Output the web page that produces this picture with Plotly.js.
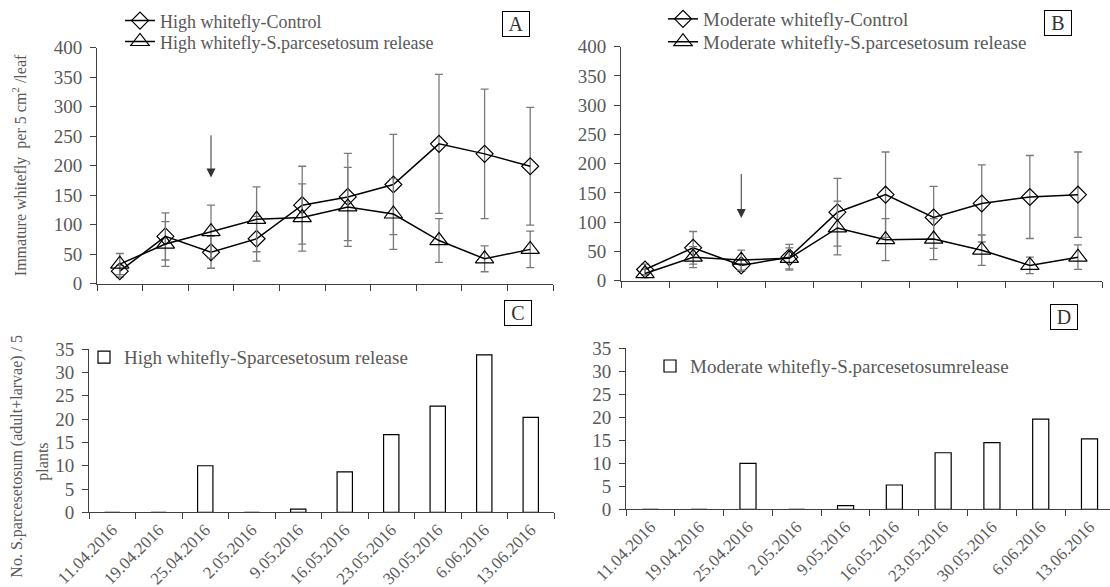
<!DOCTYPE html>
<html>
<head>
<meta charset="utf-8">
<script src="https://cdn.plot.ly/plotly-3.0.1.min.js"></script>
<style>html,body{margin:0;padding:0;background:#fff}#chart{width:1110px;height:587px}</style>
</head>
<body>
<div id="chart"></div>
<script>
// ---- data ----
var dates = ['11.04.2016','19.04.2016','25.04.2016','2.05.2016','9.05.2016','16.05.2016','23.05.2016','30.05.2016','6.06.2016','13.06.2016'];

// Panel A: high whitefly infestation
var highControl      = [21, 80, 53, 76, 133, 147, 168, 237, 220, 199];
var highControlErr   = [10, 40, 27, 38, 66, 74, 85, 118, 110, 100];
var highRelease      = [33, 67, 88, 109, 112, 130, 118, 73, 42, 58];
var highReleaseErr   = [18, 38, 45, 55, 57, 67, 60, 37, 22, 31];

// Panel B: moderate whitefly infestation
var modControl       = [19, 56, 26, 40, 117, 147, 108, 132, 143, 147];
var modControlErr    = [9, 28, 10, 22, 58, 73, 53, 66, 71, 73];
var modRelease       = [12, 40, 35, 38, 90, 70, 71, 52, 26, 40];
var modReleaseErr    = [7, 18, 17, 18, 46, 36, 35, 26, 14, 21];

// Panels C and D: S. parcesetosum counts
var highPredator     = [0, 0, 10, 0, 0.7, 8.7, 16.7, 22.8, 33.8, 20.4];
var modPredator      = [0, 0, 10, 0, 0.8, 5.3, 12.3, 14.5, 19.6, 15.3];

// release arrows (category index, arrow top, arrow tip)
var releaseIndex = 2;
var arrowA = [254, 180];
var arrowB = [185, 107];

// labels
var legendA = ['High whitefly-Control', 'High whitefly-S.parcesetosum release'];
var legendB = ['Moderate whitefly-Control', 'Moderate whitefly-S.parcesetosum release'];
var legendC = 'High whitefly-Sparcesetosum release';
var legendD = 'Moderate whitefly-S.parcesetosumrelease';
var yTitleTop = 'Immature whitefly  per 5 cm<sup>2</sup> /leaf';
var yTitleBottom1 = 'No. S.parcesetosum (adult+larvae) / 5';
var yTitleBottom2 = 'plants';
var panelLetters = ['A', 'B', 'C', 'D'];

// ---- layout helpers ----
var W = 1110, H = 587;
function px(x) { return x / W; }
function py(y) { return 1 - y / H; }
var FONT = '"Liberation Serif", "Times New Roman", serif';
var TXT = '#595959';
var AX = '#404040';

function lineTrace(y, err, name, sym, size, xa, ya, leg) {
  return {
    type: 'scatter', mode: 'lines+markers', x: dates, y: y, name: name,
    xaxis: xa, yaxis: ya, legend: leg,
    line: {color: '#000', width: 1.5},
    marker: {symbol: sym, size: size, color: '#000', line: {color: '#000', width: 1.2}},
    error_y: {type: 'data', array: err, visible: true, color: '#7a7a7a', thickness: 1.3, width: 4}
  };
}
function barTrace(y, name, xa, ya, leg) {
  return {
    type: 'bar', x: dates, y: y, name: name, xaxis: xa, yaxis: ya, legend: leg,
    width: 0.33,
    marker: {color: '#fff', line: {color: '#000', width: 1.2}}
  };
}

var data = [
  lineTrace(highControl, highControlErr, legendA[0], 'diamond-open', 13, 'x', 'y', 'legend'),
  lineTrace(highRelease, highReleaseErr, legendA[1], 'triangle-up-open', 16, 'x', 'y', 'legend2'),
  lineTrace(modControl, modControlErr, legendB[0], 'diamond-open', 13, 'x2', 'y2', 'legend3'),
  lineTrace(modRelease, modReleaseErr, legendB[1], 'triangle-up-open', 16, 'x2', 'y2', 'legend4'),
  barTrace(highPredator, legendC, 'x3', 'y3', 'legend5'),
  barTrace(modPredator, legendD, 'x4', 'y4', 'legend6')
];

function xAxis(d0, d1, anchor, labels, rangeEnd) {
  return {
    domain: [d0, d1], anchor: anchor, type: 'category',
    range: [-0.5, rangeEnd], tickson: 'boundaries',
    showline: true, linecolor: AX, linewidth: 1,
    ticks: 'outside', ticklen: 6, tickcolor: AX, tickwidth: 1,
    showgrid: false, zeroline: false,
    showticklabels: labels, tickangle: -45,
    tickfont: {family: FONT, size: 17, color: TXT}
  };
}
function yAxis(d0, d1, anchor, max, dtick) {
  return {
    domain: [d0, d1], anchor: anchor, range: [0, max], dtick: dtick,
    showline: true, linecolor: AX, linewidth: 1,
    ticks: 'outside', ticklen: 6, tickcolor: AX, tickwidth: 1,
    showgrid: false, zeroline: false, ticklabelstandoff: 4,
    tickfont: {family: FONT, size: 19, color: TXT}
  };
}
function legendAt(xText, yCenter, size) {
  return {x: px(xText - 40), y: py(yCenter), xanchor: 'left', yanchor: 'middle',
          bgcolor: 'rgba(0,0,0,0)', font: {family: FONT, size: size, color: TXT}};
}
function letterBox(t, cx, cy) {
  return {xref: 'paper', yref: 'paper', x: px(cx), y: py(cy), xanchor: 'center', yanchor: 'middle',
          text: t, showarrow: false, width: 26, height: 24, borderpad: 0,
          bordercolor: '#000', borderwidth: 1, bgcolor: '#fff',
          font: {family: FONT, size: 20, color: '#333'}};
}
function arrow(xa, ya, pair) {
  return {xref: xa, yref: ya, axref: xa, ayref: ya, x: releaseIndex, y: pair[1],
          ax: releaseIndex, ay: pair[0], text: '', showarrow: true,
          arrowhead: 2, arrowsize: 1.8, arrowwidth: 1, arrowcolor: '#333', standoff: 0};
}

var layout = {
  width: W, height: H, margin: {l: 0, r: 0, t: 0, b: 0},
  paper_bgcolor: '#fff', plot_bgcolor: '#fff',
  font: {family: FONT, color: TXT},
  showlegend: true,
  xaxis:  xAxis(px(97), px(553), 'y', false, 9.5),
  yaxis:  yAxis(py(282), py(45), 'x', 400, 50),
  xaxis2: xAxis(px(621), px(1102), 'y2', false, 9.5),
  yaxis2: yAxis(py(279), py(44), 'x2', 400, 50),
  xaxis3: xAxis(px(89), px(554), 'y3', true, 9.5),
  yaxis3: yAxis(py(512), py(348), 'x3', 35, 5),
  xaxis4: xAxis(px(626), 1, 'y4', true, 9.42),
  yaxis4: yAxis(py(509), py(347), 'x4', 35, 5),
  legend:  legendAt(160, 18, 18),
  legend2: legendAt(160, 39, 18),
  legend3: legendAt(703, 16, 19),
  legend4: legendAt(703, 39, 19),
  legend5: legendAt(124, 356, 19),
  legend6: legendAt(690, 365, 19),
  annotations: [
    letterBox(panelLetters[0], 516, 21),
    letterBox(panelLetters[1], 1058, 20),
    letterBox(panelLetters[2], 518, 312),
    letterBox(panelLetters[3], 1064, 316),
    arrow('x', 'y', arrowA),
    arrow('x2', 'y2', arrowB),
    {xref: 'paper', yref: 'paper', x: px(19), y: py(163), xanchor: 'center', yanchor: 'middle',
     text: yTitleTop, textangle: -90, showarrow: false, font: {family: FONT, size: 16, color: TXT}},
    {xref: 'paper', yref: 'paper', x: px(17), y: py(456), xanchor: 'center', yanchor: 'middle',
     text: yTitleBottom1, textangle: -90, showarrow: false, font: {family: FONT, size: 16, color: TXT}},
    {xref: 'paper', yref: 'paper', x: px(43), y: py(461), xanchor: 'center', yanchor: 'middle',
     text: yTitleBottom2, textangle: -90, showarrow: false, font: {family: FONT, size: 16, color: TXT}}
  ]
};

Plotly.newPlot('chart', data, layout, {displayModeBar: false, staticPlot: true});
</script>
</body>
</html>
